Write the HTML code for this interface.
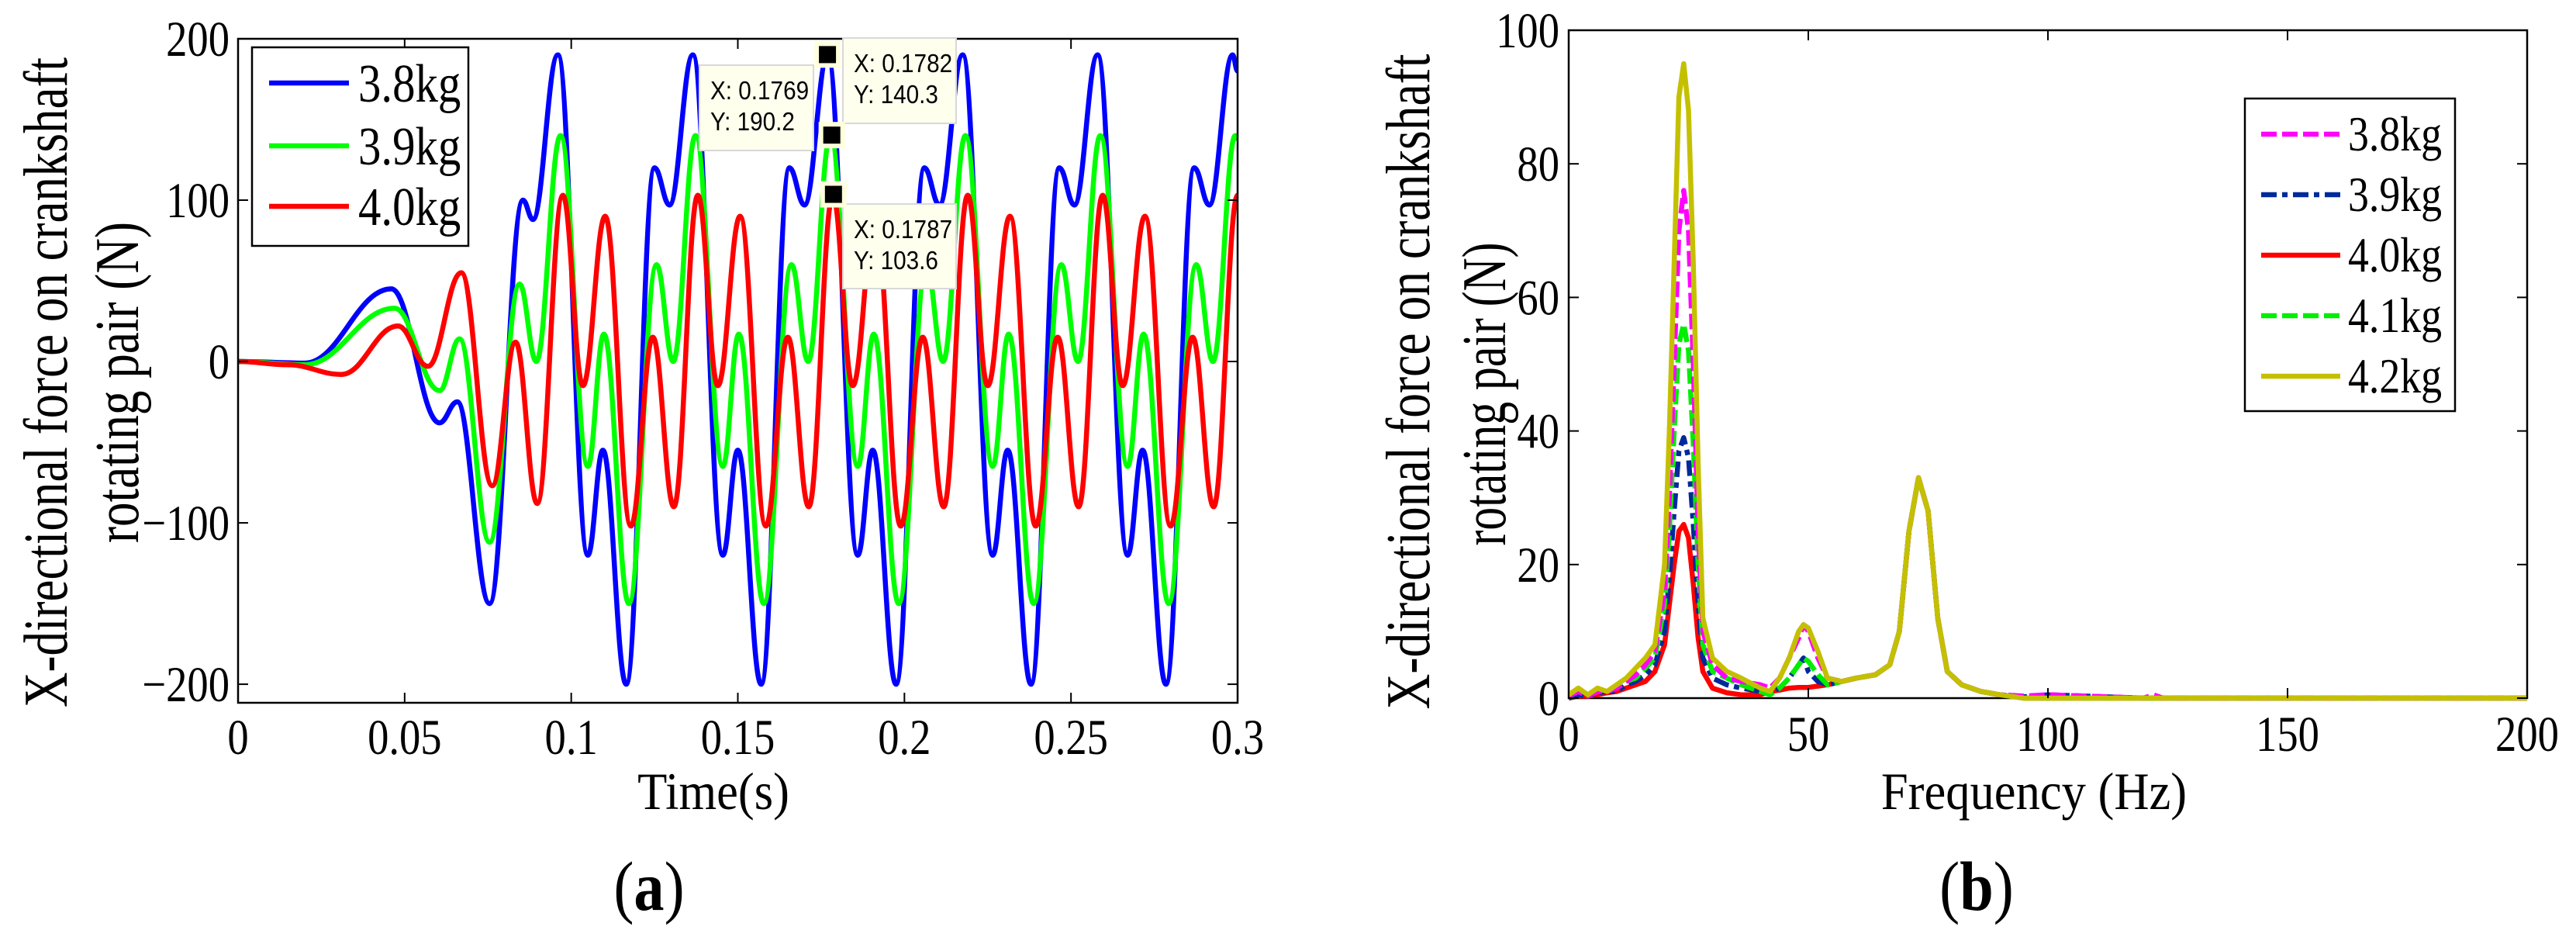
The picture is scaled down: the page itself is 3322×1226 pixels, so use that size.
<!DOCTYPE html>
<html><head><meta charset="utf-8"><style>
html,body{margin:0;padding:0;background:#fff}
svg{display:block}
text{font-family:"Liberation Serif","Times New Roman",serif;fill:#000}
.tip{font-family:"Liberation Sans",Arial,sans-serif}
</style></head><body>
<svg id="fig" width="3322" height="1226" viewBox="0 0 3322 1226" xmlns="http://www.w3.org/2000/svg">
<rect width="3322" height="1226" fill="#fff"/>
</svg>
<script>
// ---------- Chart (a) data ----------
const tBlue=[0,0.02,0.046,0.0605,0.0658,0.0755,0.0855,0.0885,0.096,0.105,0.1095,0.1165,0.125,0.1295,0.1365,0.1455,0.150,0.157,0.1655,0.170,0.177,0.186,0.1905,0.1975,0.206,0.2105,0.2175,0.2265,0.231,0.238,0.2465,0.251,0.258,0.267,0.2715,0.2785,0.287,0.2915,0.2985,0.300];
const vBlue=[0,-1,45,-38,-25,-150,100,88,190,-120,-55,-200,120,97,190,-120,-55,-200,120,97,190,-120,-55,-200,120,97,190,-120,-55,-200,120,97,190,-120,-55,-200,120,97,190,180];
const tGreen=[0,0.02,0.047,0.0605,0.0665,0.0755,0.0845,0.0895,0.0968,0.105,0.1098,0.1173,0.1256,0.1306,0.1373,0.1455,0.1503,0.1578,0.1661,0.1711,0.1778,0.186,0.1908,0.1983,0.2066,0.2116,0.2183,0.2265,0.2313,0.2388,0.2471,0.2521,0.2588,0.267,0.2718,0.2793,0.2876,0.2926,0.2993,0.300];
const vGreen=[0,-2,33,-18,14,-112,48,0,140,-65,17,-150,60,0,140,-65,17,-150,60,0,140,-65,17,-150,60,0,140,-65,17,-150,60,0,140,-65,17,-150,60,0,140,138];
const tRed=[0,0.015,0.031,0.048,0.057,0.067,0.0763,0.0833,0.0898,0.0975,0.1035,0.1102,0.1179,0.1245,0.1308,0.138,0.144,0.1507,0.1584,0.165,0.1713,0.1785,0.1845,0.1912,0.1989,0.2055,0.2118,0.219,0.225,0.2317,0.2394,0.246,0.2523,0.2595,0.2655,0.2722,0.2799,0.2865,0.2928,0.300];
const vRed=[0,-2,-8,22,-3,55,-77,12,-88,103,-15,90,-102,15,-90,103,-15,90,-102,15,-90,103,-15,90,-102,15,-90,103,-15,90,-102,15,-90,103,-15,90,-102,15,-90,103];
const xTicksA=[0,0.05,0.1,0.15,0.2,0.25,0.3];
const xTickLabelsA=["0","0.05","0.1","0.15","0.2","0.25","0.3"];
const yTicksA=[-200,-100,0,100,200];
const yTickLabelsA=["\u2212200","\u2212100","0","100","200"];
const tipX=[0.1769,0.1782,0.1787];
const tipY=[190.2,140.3,103.6];
const legendA=["3.8kg","3.9kg","4.0kg"];
// ---------- Chart (b) data ----------
const freq=[0,2,4,6,8,10,12,14,16,18,20,21,22,23,24,25,26,27,28,30,33,36,40,42,44,46,48,49,50,52,54,57,60,64,67,69,71,73,75,77,79,82,86,90,95,100,120,122,124,150,200];
const s42=[0.5,1.5,0.5,1.5,1,2,3,4.5,6,8,20,40,65,90,95,88,65,35,12,6,4,3,1.5,1,3,6,10,11,10.5,7,3,2.5,3,3.5,5,10,25,33,28,12,4,2,1,0.5,0,0,0,0,0,0,0];
const s38=[0.3,1,0.3,1,1,1.5,2.5,3.5,5,7,16,30,50,70,76,70,50,25,10,5,3,2.5,2,1.5,3,6,9,11,10,6,3,2.5,3,3.5,5,10,25,33,28,12,4,2,1,0.5,0.3,0.5,0,0.5,0,0,0];
const s41=[0.3,1,0.3,1,1,1.5,2.5,3,4.5,6,14,25,40,53,56,52,38,20,8,4,3,2,1,0.5,1.5,3,5,6,5.5,3.5,2,2.5,3,3.5,5,10,25,33,28,12,4,2,1,0.5,0,0,0,0,0,0,0];
const s39=[0,0.5,0.3,0.8,1,1,2,2.5,3.5,5,10,18,28,37,39,36,26,14,6,3,2,1.5,1,1,1.5,3,5,6,4,2.5,2,2.5,3,3.5,5,10,25,33,28,12,4,2,1,0.5,0.2,0.5,0,0,0,0,0];
const s40=[0,0.3,0.3,0.5,0.8,1,1.5,2,2.5,4,8,14,20,25,26,24,17,9,4,1.5,0.8,0.5,0.5,1,1.2,1.5,1.6,1.6,1.6,1.8,2,2.5,3,3.5,5,10,25,33,28,12,4,2,1,0.5,0,0,0,0,0,0,0];
const xTicksB=[0,50,100,150,200];
const yTicksB=[0,20,40,60,80,100];
const legendB=["3.8kg","3.9kg","4.0kg","4.1kg","4.2kg"];

const NS="http://www.w3.org/2000/svg";
const svg=document.getElementById('fig');
function mk(tag,attrs,parent){const e=document.createElementNS(NS,tag);for(const k in attrs)e.setAttribute(k,attrs[k]);(parent||svg).appendChild(e);return e;}
function txt(str,x,y,size,anchor,sx,parent,extra){
  const t=mk('text',{transform:`translate(${x},${y}) scale(${sx},1)`,'font-size':size,'text-anchor':anchor},parent);
  if(extra)for(const k in extra)t.setAttribute(k,extra[k]);
  t.textContent=str;return t;}

// ===== Chart A =====
const A={l:307,r:1596,t:50,b:906,x0:0,x1:0.3,y0:-211.5,y1:200};
const xa=v=>A.l+(v-A.x0)/(A.x1-A.x0)*(A.r-A.l);
const ya=v=>A.b-(v-A.y0)/(A.y1-A.y0)*(A.b-A.t);
const gA=mk('g',{});


function smoothPath(xs,ys,fx,fy){
  let d=`M${fx(xs[0]).toFixed(1)},${fy(ys[0]).toFixed(1)}`;
  for(let i=1;i<xs.length;i++){
    const x0=fx(xs[i-1]),y0=fy(ys[i-1]),x1=fx(xs[i]),y1=fy(ys[i]);const dx=(x1-x0)*0.4;
    d+=` C${(x0+dx).toFixed(1)},${y0.toFixed(1)} ${(x1-dx).toFixed(1)},${y1.toFixed(1)} ${x1.toFixed(1)},${y1.toFixed(1)}`;
  }return d;}
const clipA=mk('clipPath',{id:'clipA'});mk('rect',{x:A.l,y:A.t-10,width:A.r-A.l,height:A.b-A.t+10},clipA);
const seriesA=[[tBlue,vBlue,'#0000ff','series-3-8kg'],[tGreen,vGreen,'#00ff00','series-3-9kg'],[tRed,vRed,'#ff0000','series-4-0kg']];
const linesA=mk('g',{'clip-path':'url(#clipA)'},gA);
seriesA.forEach(s=>{
  const p=mk('path',{d:smoothPath(s[0],s[1],xa,ya),fill:'none',stroke:s[2],'stroke-width':6.5,'stroke-linejoin':'round'},linesA);
  
  
});
const boxA=mk('rect',{x:A.l,y:A.t,width:A.r-A.l,height:A.b-A.t,fill:'none',stroke:'#000','stroke-width':2.5},gA);


xTicksA.forEach((v,i)=>{
  const x=xa(v);
  mk('line',{x1:x,y1:A.b,x2:x,y2:A.b-13,stroke:'#000','stroke-width':2},gA);
  mk('line',{x1:x,y1:A.t,x2:x,y2:A.t+13,stroke:'#000','stroke-width':2},gA);
  const t=txt(xTickLabelsA[i],x,972,65,'middle',0.84,gA);
  
  
});
yTicksA.forEach((v,i)=>{
  const y=ya(v);
  mk('line',{x1:A.l,y1:y,x2:A.l+13,y2:y,stroke:'#000','stroke-width':2},gA);
  mk('line',{x1:A.r,y1:y,x2:A.r-13,y2:y,stroke:'#000','stroke-width':2},gA);
  const t=txt(yTickLabelsA[i],296,y+22,65,'end',0.84,gA);
  
  
});
const legA=mk('g',{},gA);


mk('rect',{x:325,y:61,width:279,height:256,fill:'#fff',stroke:'#000','stroke-width':2.5},legA);
[107,188,266].forEach((y,i)=>{
  const ln=mk('line',{x1:347,y1:y,x2:450,y2:y,stroke:seriesA[i][2],'stroke-width':6.5},legA);
  
  
  const t=txt(legendA[i],462,y+24,70,'start',0.84,legA);
  
  
});
const tipBoxes=[[902,84,147,110],[1087,49,146,110],[1087,263,146,109]];
tipX.forEach((tx,i)=>{
  const g=mk('g',{},gA);
  
  
  const b=tipBoxes[i];
  mk('rect',{x:b[0],y:b[1],width:b[2],height:b[3],fill:'#ffffee',stroke:'#d8d8d8','stroke-width':2},g);
  txt('X: '+tx,b[0]+14,b[1]+44,33,'start',0.9,g,{class:'tip'});
  txt('Y: '+tipY[i],b[0]+14,b[1]+84,33,'start',0.9,g,{class:'tip'});
  const mx=xa(tx),my=ya(tipY[i]);
  mk('rect',{x:mx-14,y:my-14,width:28,height:28,fill:'#000',stroke:'#ffffdd','stroke-width':6},g);
});
let t;
t=txt('Time(s)',920,1043,68,'middle',0.92,gA);


t=mk('text',{transform:'translate(86,493) rotate(-90)','font-size':80,'text-anchor':'middle',textLength:838,lengthAdjust:'spacingAndGlyphs'},gA);
t.textContent='X-directional force on crankshaft';


t=mk('text',{transform:'translate(178,493) rotate(-90)','font-size':80,'text-anchor':'middle',textLength:414,lengthAdjust:'spacingAndGlyphs'},gA);
t.textContent='rotating pair (N)';


t=mk('text',{transform:'translate(837,1173) scale(0.87,1)','font-size':90,'text-anchor':'middle'},gA);
t.innerHTML='(<tspan font-weight="bold">a</tspan>)';



// ===== Chart B =====
const B={l:2023,r:3259,t:39,b:900,x0:0,x1:200,y0:0,y1:100};
const xb=v=>B.l+(v-B.x0)/(B.x1-B.x0)*(B.r-B.l);
const yb=v=>B.b-(v-B.y0)/(B.y1-B.y0)*(B.b-B.t);
const gB=mk('g',{});


const boxB=mk('rect',{x:B.l,y:B.t,width:B.r-B.l,height:B.b-B.t,fill:'none',stroke:'#000','stroke-width':2.5},gB);


const seriesB=[[s38,'#ff00ff','20,7','spectrum-3-8kg'],[s39,'#00299a','20,7,7,7','spectrum-3-9kg'],[s40,'#ff0000','','spectrum-4-0kg'],[s41,'#00ee00','20,7','spectrum-4-1kg'],[s42,'#c4c000','','spectrum-4-2kg']];
const drawOrder=[2,1,3,0,4];
drawOrder.forEach(i=>{
  const s=seriesB[i];
  const pts=freq.map((f,j)=>xb(f).toFixed(1)+','+yb(s[0][j]).toFixed(1)).join(' ');
  const attrs={points:pts,fill:'none',stroke:s[1],'stroke-width':6.5,'stroke-linejoin':'round'};
  if(s[2])attrs['stroke-dasharray']=s[2];
  const p=mk('polyline',attrs,gB);
  
  
});
xTicksB.forEach(v=>{
  const x=xb(v);
  mk('line',{x1:x,y1:B.b,x2:x,y2:B.b-13,stroke:'#000','stroke-width':2},gB);
  mk('line',{x1:x,y1:B.t,x2:x,y2:B.t+13,stroke:'#000','stroke-width':2},gB);
  const t=txt(String(v),x,968,65,'middle',0.84,gB);
  
  
});
yTicksB.forEach(v=>{
  const y=yb(v);
  mk('line',{x1:B.l,y1:y,x2:B.l+13,y2:y,stroke:'#000','stroke-width':2},gB);
  mk('line',{x1:B.r,y1:y,x2:B.r-13,y2:y,stroke:'#000','stroke-width':2},gB);
  const t=txt(String(v),2011,y+22,65,'end',0.84,gB);
  
  
});
const legB=mk('g',{},gB);


mk('rect',{x:2895,y:127,width:271,height:403,fill:'#fff',stroke:'#000','stroke-width':2.5},legB);
legendB.forEach((lab,i)=>{
  const y=173+i*78,s=seriesB[i];
  const a={x1:2916,y1:y,x2:3018,y2:y,stroke:s[1],'stroke-width':6.5};
  if(s[2])a['stroke-dasharray']=s[2];
  const ln=mk('line',a,legB);
  
  
  const t=txt(lab,3028,y+21,64,'start',0.84,legB);
  
  
});
t=txt('Frequency (Hz)',2623,1043,68,'middle',0.92,gB);


t=mk('text',{transform:'translate(1843,492) rotate(-90)','font-size':80,'text-anchor':'middle',textLength:845,lengthAdjust:'spacingAndGlyphs'},gB);
t.textContent='X-directional force on crankshaft';


t=mk('text',{transform:'translate(1941,508) rotate(-90)','font-size':80,'text-anchor':'middle',textLength:391,lengthAdjust:'spacingAndGlyphs'},gB);
t.textContent='rotating pair (N)';


t=mk('text',{transform:'translate(2549,1173) scale(0.87,1)','font-size':90,'text-anchor':'middle'},gB);
t.innerHTML='(<tspan font-weight="bold">b</tspan>)';


</script>
</body></html>
